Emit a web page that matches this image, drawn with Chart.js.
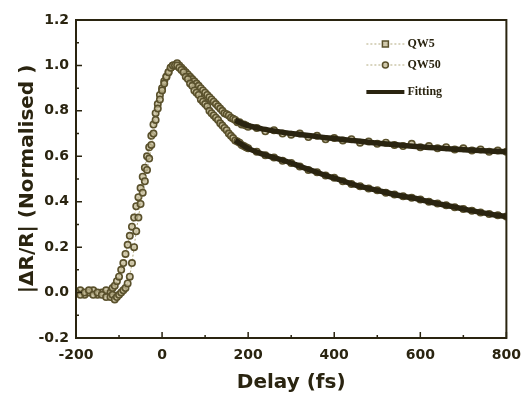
<!DOCTYPE html>
<html>
<head>
<meta charset="utf-8">
<script src="https://cdn.jsdelivr.net/npm/chart.js@4.4.0/dist/chart.umd.min.js"></script>
<style>
  html, body { margin: 0; padding: 0; background: #fff; }
  #wrap { width: 530px; height: 397px; }
</style>
</head>
<body>
<div id="wrap"><canvas id="chart"></canvas></div>
<script>
// Pump-probe delay (fs) and normalised |dR/R|
const delays = [
  -200, -190, -180, -170, -160, -150, -140, -130,
  -120, -115, -110, -105, -100, -95, -90, -85, -80, -75, -70, -65, -60, -55, -50, -45,
  -40, -35, -30, -25, -20, -15, -10, -5, 0, 5, 10, 15, 20, 25, 30, 35,
  40, 45, 50, 55, 60, 65, 70, 75, 80, 85, 90, 95, 100, 105, 110, 115,
  120, 125, 130, 135, 140, 145, 150, 155, 160, 165, 170, 175, 180, 185, 190, 195,
  200, 220, 240, 260, 280, 300, 320, 340, 360, 380, 400, 420, 440, 460, 480, 500,
  520, 540, 560, 580, 600, 620, 640, 660, 680, 700, 720, 740, 760, 780, 800
];

const qw5 = [
  0.00, -0.01, 0.00, 0.01, -0.01, 0.00, -0.01, -0.02,
  -0.02, -0.01, -0.03, -0.02, -0.01, 0.00, 0.01, 0.02, 0.04, 0.07, 0.13, 0.20, 0.27, 0.33, 0.39, 0.44,
  0.49, 0.54, 0.59, 0.65, 0.70, 0.76, 0.81, 0.85, 0.89, 0.92, 0.95, 0.97, 0.99, 1.00, 1.00, 1.00,
  0.99, 0.98, 0.97, 0.95, 0.94, 0.92, 0.91, 0.89, 0.88, 0.87, 0.85, 0.84, 0.83, 0.82, 0.80, 0.79,
  0.78, 0.77, 0.76, 0.745, 0.735, 0.725, 0.715, 0.70, 0.69, 0.68, 0.67, 0.665, 0.66, 0.65, 0.645, 0.64,
  0.635, 0.62, 0.605, 0.595, 0.58, 0.57, 0.555, 0.54, 0.53, 0.515, 0.505, 0.49, 0.478, 0.468, 0.458, 0.45,
  0.44, 0.432, 0.424, 0.417, 0.41, 0.40, 0.392, 0.384, 0.376, 0.368, 0.36, 0.353, 0.346, 0.34, 0.335
];

const qw50 = [
  0.00, 0.01, -0.01, 0.00, 0.01, -0.01, 0.00, 0.01,
  0.00, 0.02, 0.03, 0.05, 0.07, 0.10, 0.13, 0.17, 0.21, 0.25, 0.29, 0.33, 0.38, 0.42, 0.46, 0.51,
  0.55, 0.60, 0.64, 0.69, 0.74, 0.79, 0.83, 0.87, 0.90, 0.93, 0.95, 0.97, 0.99, 1.00, 1.00, 1.01,
  1.00, 0.99, 0.98, 0.97, 0.96, 0.95, 0.94, 0.93, 0.92, 0.91, 0.90, 0.89, 0.88, 0.87, 0.86, 0.85,
  0.84, 0.83, 0.82, 0.81, 0.80, 0.79, 0.785, 0.78, 0.77, 0.765, 0.76, 0.75, 0.75, 0.74, 0.74, 0.735,
  0.73, 0.725, 0.71, 0.715, 0.70, 0.695, 0.70, 0.685, 0.69, 0.675, 0.68, 0.67, 0.675, 0.66, 0.665, 0.655,
  0.66, 0.65, 0.645, 0.655, 0.64, 0.645, 0.635, 0.64, 0.63, 0.635, 0.625, 0.63, 0.62, 0.625, 0.62
];

// fitted decay curves
const fitDelays = [170, 200, 230, 260, 290, 320, 350, 380, 410, 440, 470, 500, 530, 560, 590, 620, 650, 680, 710, 740, 770, 800];
const fitQW5 = [0.67, 0.635, 0.612, 0.594, 0.577, 0.556, 0.536, 0.516, 0.498, 0.479, 0.463, 0.45, 0.436, 0.424, 0.414, 0.40, 0.388, 0.376, 0.364, 0.353, 0.343, 0.335];
const fitQW50 = [0.758, 0.735, 0.722, 0.712, 0.703, 0.696, 0.689, 0.682, 0.676, 0.67, 0.664, 0.658, 0.653, 0.648, 0.643, 0.639, 0.635, 0.631, 0.628, 0.625, 0.622, 0.62];

const xMajorTicks = [-200, 0, 200, 400, 600, 800];
const xMinorTicks = [-100, 100, 300, 500, 700];
const yMajorTicks = [-0.2, 0, 0.2, 0.4, 0.6, 0.8, 1.0, 1.2];
const yMinorTicks = [-0.1, 0.1, 0.3, 0.5, 0.7, 0.9, 1.1];

const INK = '#2a2410';
const MARKER = '#5a512c';
const MARKER_FILL = 'rgba(195,186,148,0.75)';
const THIN = '#b3ab80';

function toPoints(xs, ys) {
  return xs.map((x, i) => ({ x: x, y: ys[i] }));
}

// frame + inward tick marks
const frameTicks = {
  id: 'frameTicks',
  afterDraw(chart) {
    const { ctx, chartArea: a, scales } = chart;
    ctx.save();
    ctx.strokeStyle = INK;
    ctx.lineWidth = 2;
    ctx.strokeRect(a.left, a.top, a.right - a.left, a.bottom - a.top);
    ctx.lineWidth = 1.5;
    ctx.beginPath();
    xMajorTicks.forEach(v => {
      const px = scales.x.getPixelForValue(v);
      ctx.moveTo(px, a.bottom); ctx.lineTo(px, a.bottom - 6);
    });
    xMinorTicks.forEach(v => {
      const px = scales.x.getPixelForValue(v);
      ctx.moveTo(px, a.bottom); ctx.lineTo(px, a.bottom - 3);
    });
    yMajorTicks.forEach(v => {
      const py = scales.y.getPixelForValue(v);
      ctx.moveTo(a.left, py); ctx.lineTo(a.left + 6, py);
    });
    yMinorTicks.forEach(v => {
      const py = scales.y.getPixelForValue(v);
      ctx.moveTo(a.left, py); ctx.lineTo(a.left + 3, py);
    });
    ctx.stroke();
    ctx.restore();
  }
};

// small legend inside the upper-right corner
const innerLegend = {
  id: 'innerLegend',
  afterDatasetsDraw(chart) {
    const { ctx, chartArea: a } = chart;
    const x0 = a.right - 140, x1 = a.right - 102, tx = a.right - 99;
    const rows = [
      { label: 'QW5', y: a.top + 24, style: 'rect' },
      { label: 'QW50', y: a.top + 45, style: 'circle' },
      { label: 'Fitting', y: a.top + 72, style: 'fit' }
    ];
    ctx.save();
    rows.forEach(r => {
      if (r.style === 'fit') {
        ctx.strokeStyle = INK;
        ctx.lineWidth = 4;
        ctx.setLineDash([]);
        ctx.beginPath(); ctx.moveTo(x0, r.y); ctx.lineTo(x1, r.y); ctx.stroke();
      } else {
        ctx.strokeStyle = THIN;
        ctx.lineWidth = 1;
        ctx.setLineDash([2, 2]);
        ctx.beginPath(); ctx.moveTo(x0, r.y); ctx.lineTo(x1, r.y); ctx.stroke();
        ctx.setLineDash([]);
        const mx = (x0 + x1) / 2;
        ctx.fillStyle = MARKER_FILL;
        ctx.strokeStyle = MARKER;
        ctx.lineWidth = 1.5;
        ctx.beginPath();
        if (r.style === 'rect') ctx.rect(mx - 3, r.y - 3, 6, 6);
        else ctx.arc(mx, r.y, 3, 0, Math.PI * 2);
        ctx.fill(); ctx.stroke();
      }
      ctx.fillStyle = INK;
      ctx.font = 'bold 12px "Liberation Serif", serif';
      ctx.textBaseline = 'middle';
      ctx.textAlign = 'left';
      ctx.fillText(r.label, tx, r.y);
    });
    ctx.restore();
  }
};

new Chart(document.getElementById('chart').getContext('2d'), {
  type: 'scatter',
  data: {
    datasets: [{
      label: 'Fitting',
      data: toPoints(fitDelays, fitQW5),
      showLine: true,
      borderColor: INK,
      borderWidth: 5.5,
      pointRadius: 0,
      tension: 0.3
    }, {
      label: 'Fitting (QW50)',
      data: toPoints(fitDelays, fitQW50),
      showLine: true,
      borderColor: INK,
      borderWidth: 5.5,
      pointRadius: 0,
      tension: 0.3
    }, {
      label: 'QW5',
      data: toPoints(delays, qw5),
      showLine: true,
      borderColor: THIN,
      borderWidth: 1,
      borderDash: [2, 2],
      pointStyle: 'circle',
      pointRadius: 3.2,
      pointBorderWidth: 1.6,
      pointBorderColor: MARKER,
      pointBackgroundColor: MARKER_FILL
    }, {
      label: 'QW50',
      data: toPoints(delays, qw50),
      showLine: true,
      borderColor: THIN,
      borderWidth: 1,
      borderDash: [2, 2],
      pointStyle: 'circle',
      pointRadius: 3.2,
      pointBorderWidth: 1.6,
      pointBorderColor: MARKER,
      pointBackgroundColor: MARKER_FILL
    }]
  },
  options: {
    responsive: true,
    maintainAspectRatio: false,
    animation: false,
    layout: { padding: { top: 20, right: 18, left: 0, bottom: 0 } },
    plugins: {
      legend: { display: false },
      tooltip: { enabled: false }
    },
    scales: {
      x: {
        type: 'linear',
        min: -200,
        max: 800,
        afterFit: scale => { scale.height = 59; },
        grid: { display: false, drawTicks: false },
        border: { display: false },
        ticks: {
          stepSize: 200,
          padding: 9,
          color: INK,
          font: { family: '"DejaVu Sans", sans-serif', size: 14, weight: 'bold' }
        },
        title: {
          display: true,
          text: 'Delay (fs)',
          color: INK,
          padding: { top: 0, bottom: 2 },
          font: { family: '"DejaVu Sans", sans-serif', size: 20, weight: 'bold' }
        }
      },
      y: {
        min: -0.2,
        max: 1.2,
        afterFit: scale => { scale.width = 76; },
        grid: { display: false, drawTicks: false },
        border: { display: false },
        ticks: {
          stepSize: 0.2,
          padding: 7,
          color: INK,
          font: { family: '"DejaVu Sans", sans-serif', size: 14, weight: 'bold' },
          callback: v => (Math.abs(v) < 1e-9 ? 0 : v).toFixed(1)
        },
        title: {
          display: true,
          text: '|ΔR/R| (Normalised )',
          color: INK,
          padding: { top: 16, bottom: 0 },
          font: { family: '"DejaVu Sans", sans-serif', size: 20, weight: 'bold' }
        }
      }
    }
  },
  plugins: [frameTicks, innerLegend]
});
</script>
</body>
</html>
